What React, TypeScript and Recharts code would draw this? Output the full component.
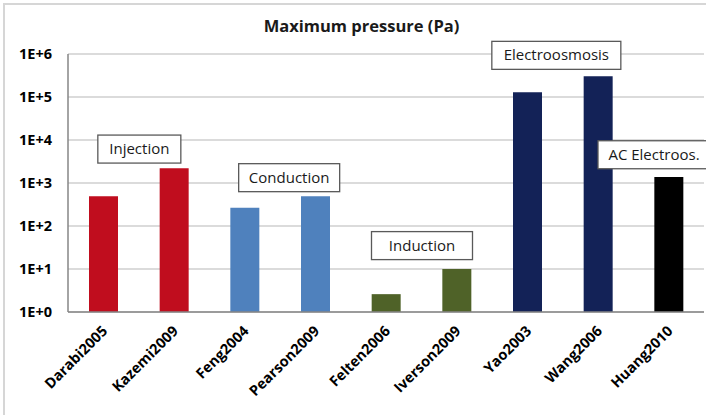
import React from "react";
import { BarChart, Bar, XAxis, YAxis, CartesianGrid, Cell, ReferenceDot } from "recharts";

const categories = ["Darabi2005", "Kazemi2009", "Feng2004", "Pearson2009", "Felten2006", "Iverson2009", "Yao2003", "Wang2006", "Huang2010"];
const pressures = [490, 2200, 265, 490, 2.6, 10, 129000, 303000, 1370];
const groups = ["Injection", "Injection", "Conduction", "Conduction", "Induction", "Induction", "Electroosmosis", "Electroosmosis", "AC Electroos."];
const yTicks = [1, 10, 100, 1000, 10000, 100000, 1000000];
const yTickLabels = ["1E+0", "1E+1", "1E+2", "1E+3", "1E+4", "1E+5", "1E+6"];
const annotationLabels = ["Injection", "Conduction", "Induction", "Electroosmosis", "AC Electroos."];
const annotationCategories = ["Darabi2005", "Feng2004", "Felten2006", "Yao2003", "Wang2006"];
const annotationValues = [6150, 1330, 35, 930000, 4540];

const groupColors: Record<string, string> = {
  Injection: "#C00D1E",
  Conduction: "#4F81BD",
  Induction: "#4F6228",
  Electroosmosis: "#132257",
  "AC Electroos.": "#000000",
};

// layout for annotation boxes (offset from anchor category center, box width)
const boxLayout: Record<string, { dx: number; w: number }> = {
  Injection: { dx: 36, w: 83 },
  Conduction: { dx: 44.5, w: 101 },
  Induction: { dx: 36, w: 101 },
  Electroosmosis: { dx: 29, w: 129 },
  "AC Electroos.": { dx: 56, w: 112 },
};

const data = categories.map((name, i) => ({ name, value: pressures[i], group: groups[i] }));

const FONT = "'Open Sans', sans-serif";

const XTick = (props: any) => {
  const { x, y, payload } = props;
  return (
    <g transform={`translate(${x + 5},${y + 20})`}>
      <text transform="rotate(-45)" textAnchor="end" fontFamily={FONT} fontWeight="bold" fontSize={14.5} fill="#000">
        {payload.value}
      </text>
    </g>
  );
};

const YTick = (props: any) => {
  const { x, y, payload } = props;
  const idx = yTicks.indexOf(payload.value);
  return (
    <text x={x} y={y} dy={5} textAnchor="end" fontFamily={FONT} fontWeight="bold" fontSize={14.5} fill="#000">
      {idx >= 0 ? yTickLabels[idx] : ""}
    </text>
  );
};

const makeBox = (label: string) => (p: any) => {
  const { cx, cy } = p;
  const { dx, w } = boxLayout[label];
  const h = 28;
  const cxx = cx + dx;
  return (
    <g>
      <rect x={cxx - w / 2} y={cy - h / 2} width={w} height={h} fill="#fff" stroke="#595959" strokeWidth={1.3} />
      <text x={cxx} y={cy + 5} textAnchor="middle" fontFamily={FONT} fontSize={15} fill="#1a1a1a">
        {label}
      </text>
    </g>
  );
};

export default function App() {
  return (
    <div style={{ position: "absolute", left: 0, top: 0, width: 706, height: 415, overflow: "hidden", background: "#fff" }}>
      <div
        style={{
          position: "absolute",
          left: 3,
          top: 3,
          width: 720,
          height: 430,
          border: "2px solid #d6d6d6",
          boxSizing: "border-box",
        }}
      />
      <div
        style={{
          position: "absolute",
          left: 361.5,
          top: 14,
          transform: "translateX(-50%)",
          whiteSpace: "nowrap",
          fontFamily: FONT,
          fontWeight: "bold",
          fontSize: 16.5,
          color: "#1a1a1a",
        }}
      >
        Maximum pressure (Pa)
      </div>
      <div style={{ position: "absolute", left: 0, top: 0 }}>
        <BarChart width={706} height={415} data={data} margin={{ top: 54, right: 2, left: 0, bottom: 0 }}>
          <CartesianGrid horizontal={true} vertical={false} stroke="#cfcfcf" strokeWidth={1.5} />
          <XAxis
            dataKey="name"
            height={103}
            tickSize={0}
            tickMargin={0}
            tickLine={false}
            axisLine={{ stroke: "#868686", strokeWidth: 1.5 }}
            tick={<XTick />}
            interval={0}
          />
          <YAxis
            scale="log"
            domain={[1, 1000000]}
            ticks={yTicks}
            allowDataOverflow
            width={68}
            tickSize={0}
            tickMargin={16}
            tickLine={false}
            axisLine={{ stroke: "#868686", strokeWidth: 1.5 }}
            tick={<YTick />}
            interval={0}
          />
          <Bar dataKey="value" barSize={29} isAnimationActive={false}>
            {data.map((d, i) => (
              <Cell key={i} fill={groupColors[d.group]} />
            ))}
          </Bar>
          {annotationLabels.map((label, i) => (
            <ReferenceDot
              key={label}
              x={annotationCategories[i]}
              y={annotationValues[i]}
              r={0}
              ifOverflow="visible"
              shape={makeBox(label)}
            />
          ))}
        </BarChart>
      </div>
    </div>
  );
}
